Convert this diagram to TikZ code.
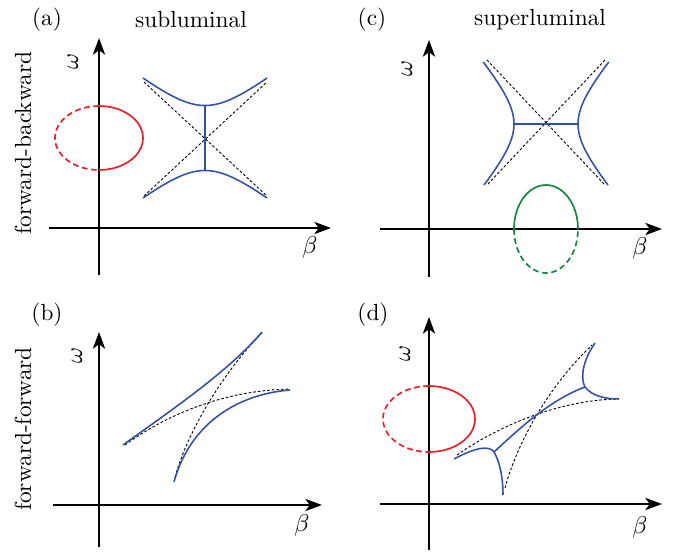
\documentclass[tikz,border=0pt]{standalone}
\usetikzlibrary{arrows.meta}
\definecolor{cblue}{RGB}{52,80,165}
\definecolor{cred}{RGB}{232,30,40}
\definecolor{cgreen}{RGB}{20,135,65}
\begin{document}
\begin{tikzpicture}[x=0.45pt,y=-0.45pt,
  every node/.style={font=\fontsize{10.5}{12}\selectfont, inner sep=0pt},
  axis/.style={line width=0.95pt,-{Stealth[length=7.5pt,width=5.5pt,inset=2pt]}},
  curve/.style={cblue,line width=0.7pt},
  asym/.style={black,line width=0.4pt,dash pattern=on 1.2pt off 0.9pt},
  solidpart/.style={line width=0.75pt},
  dashpart/.style={line width=0.75pt,dash pattern=on 2.6pt off 1.6pt},
  rotlab/.style={rotate=90}]
\useasboundingbox (0,0) rectangle (673,552);

% ---------------- panel (a)
\node (la) at (47,20) {(a)};
\node (ta) at (191,20) {subluminal};
\node[rotlab] (fb) at (23,143) {forward-backward};
\coordinate (axL) at (49,228); \coordinate (axR) at (331,228);
\coordinate (ayB) at (99,275); \coordinate (ayT) at (99,38);
\draw[axis] (axL) -- (axR);
\draw[axis] (ayB) -- (ayT);
\node (ba) at (310,247) {$\beta$};
\node[rotlab] (wa) at (73,61) {$\omega$};
\draw[cred,solidpart] (99,106) arc[start angle=90,end angle=-90,x radius=19.8pt,y radius=14.4pt];
\draw[cred,dashpart] (99,106) arc[start angle=90,end angle=270,x radius=19.8pt,y radius=14.4pt];
\draw[asym] (144,82) -- (267,196);
\draw[asym] (144,196) -- (267,82);
\draw[curve] plot[domain=-62:62,samples=60] ({205+\x},{138-sqrt(1056+0.662*\x*\x)});
\draw[curve] plot[domain=-62:62,samples=60] ({205+\x},{138+sqrt(1056+0.662*\x*\x)});
\draw[curve] (205,105.5) -- (205,170.5);

% ---------------- panel (c)
\node (lc) at (372,20) {(c)};
\node (tc) at (540,20) {superluminal};
\coordinate (cxL) at (380,229); \coordinate (cxR) at (662,229);
\coordinate (cyB) at (429,277); \coordinate (cyT) at (429,40);
\draw[axis] (cxL) -- (cxR);
\draw[axis] (cyB) -- (cyT);
\node (bc) at (640,248) {$\beta$};
\node[rotlab] (wc) at (407,68) {$\omega$};
\draw[asym] (487,60) -- (605,185);
\draw[asym] (605,60) -- (487,185);
\draw[curve] plot[domain=-62:61,samples=60] ({546+sqrt(1024+0.758*\x*\x)},{124+\x});
\draw[curve] plot[domain=-62:61,samples=60] ({546-sqrt(1024+0.758*\x*\x)},{124+\x});
\draw[curve] (514,124) -- (578,124);
\draw[cgreen,solidpart] (514,229) arc[start angle=180,end angle=0,x radius=14.4pt,y radius=19.8pt];
\draw[cgreen,dashpart] (514,229) arc[start angle=180,end angle=360,x radius=14.4pt,y radius=19.8pt];

% ---------------- panel (b)
\node (lb) at (47,315) {(b)};
\node[rotlab] (ff) at (23,429) {forward-forward};
\coordinate (bxL) at (53,505); \coordinate (bxR) at (322,505);
\coordinate (byB) at (99,547); \coordinate (byT) at (99,332);
\draw[axis] (bxL) -- (bxR);
\draw[axis] (byB) -- (byT);
\node (bb) at (302,525) {$\beta$};
\node[rotlab] (wb) at (77,355) {$\omega$};
\draw[asym] (125,445) .. controls (180,405) and (240,390) .. (290,389);
\draw[asym] (175,477) .. controls (188,430) and (225,370) .. (262,333);
\draw[curve] (123,445) .. controls (170,411) and (228,372) .. (262,332);
\draw[curve] (174,482) .. controls (188,430) and (230,395) .. (290,390);

% ---------------- panel (d)
\node (ld) at (373,315) {(d)};
\coordinate (dxL) at (380,504); \coordinate (dxR) at (662,504);
\coordinate (dyB) at (429,550); \coordinate (dyT) at (429,317);
\draw[axis] (dxL) -- (dxR);
\draw[axis] (dyB) -- (dyT);
\node (bd) at (640,527) {$\beta$};
\node[rotlab] (wd) at (405,353) {$\omega$};
\draw[cred,solidpart] (429,386) arc[start angle=90,end angle=-90,x radius=20.7pt,y radius=14.85pt];
\draw[cred,dashpart] (429,386) arc[start angle=90,end angle=270,x radius=20.7pt,y radius=14.85pt];
\draw[asym] (457,455) .. controls (500,425) and (560,400) .. (618,399);
\draw[asym] (505,488) .. controls (518,440) and (550,385) .. (592,345);
\draw[curve] (494,452) .. controls (520,428) and (550,400) .. (585,387);
\draw[curve] (454,459) .. controls (478,446) and (490,446) .. (494,452)
                       .. controls (500,462) and (503,478) .. (503,495);
\draw[curve] (595,343) .. controls (583,360) and (580,378) .. (585,387)
                       .. controls (592,396) and (605,399) .. (619,399);
\end{tikzpicture}
\end{document}
